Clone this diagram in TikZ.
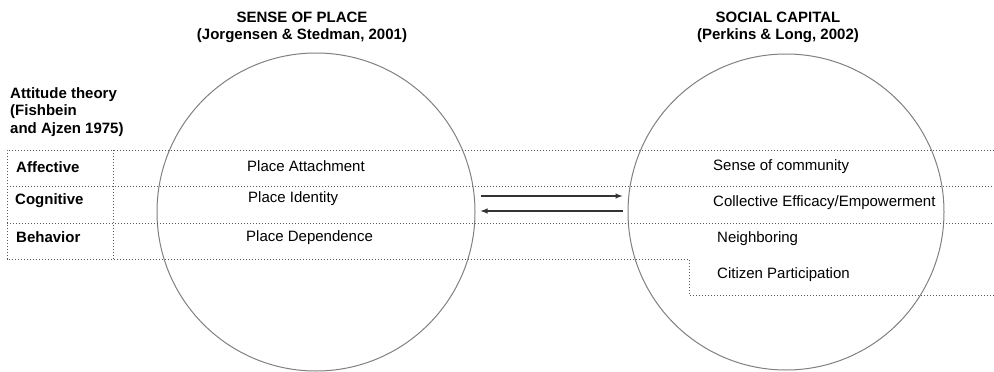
\documentclass[tikz,border=0pt]{standalone}
\usepackage{fontspec}
\setmainfont{Liberation Sans}
\usepackage{tikz}
\usetikzlibrary{positioning}
\usetikzlibrary{arrows}
\tikzset{
font={\fontsize{15pt}{17.5pt}\selectfont}}
\tikzset{
  ring/.style={circle, draw=black!50, line width=1pt, inner sep=0pt},
  dotline/.style={draw=black!65, line width=1pt, dash pattern=on 1.2pt off 1.8pt},
  rowlabel/.style={anchor=west, inner sep=0pt, font={\fontsize{15pt}{17.5pt}\selectfont\bfseries}},
  cell/.style={anchor=west, inner sep=0pt},
  heading/.style={inner sep=0pt, align=center, font={\fontsize{15pt}{17pt}\selectfont\bfseries}},
  link/.style={line width=1.4pt, draw=black!80, arrows={-latex}}
}

\begin{document}
\begin{tikzpicture}[x=1pt, y=-1pt]
    \useasboundingbox (0, 0) rectangle (994, 372);

    % Circles
    \node [ring, minimum size=318] (sop) at (316, 212) {};
    \node [ring, minimum size=316] (soc) at (786, 212) {};

    % headings
    \node [heading] (sopTitle) at (302, 27) {SENSE OF PLACE\\(Jorgensen \& Stedman, 2001)};
    \node [heading] (socTitle) at (778, 27) {SOCIAL CAPITAL\\(Perkins \& Long, 2002)};

    % Attitude theory label
    \node [rowlabel, align=left] (attitude) at (10, 112) {Attitude theory\\(Fishbein\\and Ajzen 1975)};

    % dotted table
    \draw [dotline] (994, 150) -- (7, 150) -- (7, 259) -- (689, 259) -- (689, 295) -- (994, 295);
    \draw [dotline] (7, 186) -- (994, 186);
    \draw [dotline] (7, 223) -- (994, 223);
    \draw [dotline] (113, 150) -- (113, 259);

    % row labels
    \node [rowlabel] (affective) at (16, 167) {Affective};
    \node [rowlabel] (cognitive) at (15, 201) {Cognitive};
    \node [rowlabel] (behavior) at (16, 237) {Behavior};

    % sense of place entries
    \node [cell] (attach) at (247, 166) {Place Attachment};
    \node [cell] (identity) at (248, 199) {Place Identity};
    \node [cell] (depend) at (246, 238) {Place Dependence};

    % social capital entries
    \node [cell] (community) at (713, 167) {Sense of community};
    \node [cell] (efficacy) at (713, 203) {Collective Efficacy/Empowerment};
    \node [cell] (neighbor) at (717, 239) {Neighboring};
    \node [cell] (citizen) at (717, 275) {Citizen Participation};

    % arrows between the circles
    \draw [link] ([xshift=5pt, yshift=16pt]sop.east) -- ([xshift=-5pt, yshift=16pt]soc.west);
    \draw [link] ([xshift=-5pt, yshift=1pt]soc.west) -- ([xshift=5pt, yshift=1pt]sop.east);
  \end{tikzpicture}
\end{document}
